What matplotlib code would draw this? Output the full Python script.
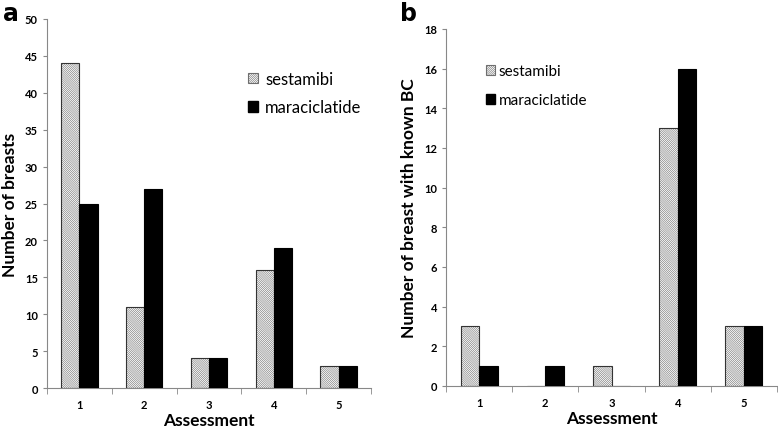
import matplotlib.pyplot as plt
import numpy as np
from matplotlib.patches import Patch

# data
assessment = [1, 2, 3, 4, 5]
sestamibi_a = [44, 11, 4, 16, 3]
maraciclatide_a = [25, 27, 4, 19, 3]
sestamibi_b = [3, 0, 1, 13, 3]
maraciclatide_b = [1, 1, 0, 16, 3]

plt.rcParams['font.family'] = ['Lato', 'DejaVu Sans']
plt.rcParams['hatch.linewidth'] = 0.4

HATCH = '\\' * 16
HCOL = '#6e6e6e'

fig = plt.figure(figsize=(7.78, 4.31), dpi=100)
ax_a = fig.add_axes([0.0604, 0.0974, 0.4165, 0.8562])
ax_b = fig.add_axes([0.5733, 0.1021, 0.4254, 0.8283])

w = 0.28
x = np.array(assessment)


def draw_panel(ax, ses, mar, ymax, ystep, ylabel):
    # hatched bars: hatch first, outline on top
    ax.bar(x - w / 2, ses, w, facecolor='white', edgecolor=HCOL,
           hatch=HATCH, linewidth=0, zorder=2)
    ax.bar(x - w / 2, ses, w, facecolor='none', edgecolor='#333333',
           linewidth=0.8, zorder=3)
    ax.bar(x + w / 2, mar, w, color='black', edgecolor='black',
           linewidth=0.8, zorder=3)
    ax.set_xlim(0.5, 5.5)
    ax.set_ylim(0, ymax)
    ax.set_yticks(np.arange(0, ymax + 0.1, ystep))
    ax.set_xticks(x)
    ax.set_xticks(np.arange(0.5, 5.6, 1), minor=True)
    ax.tick_params(axis='x', which='major', length=0, pad=8, labelsize=8)
    ax.tick_params(axis='x', which='minor', length=4, color='#888888')
    ax.tick_params(axis='y', length=3, color='#888888', labelsize=8)
    for lab in ax.get_xticklabels() + ax.get_yticklabels():
        lab.set_fontweight('bold')
    for s in ['top', 'right']:
        ax.spines[s].set_visible(False)
    for s in ['left', 'bottom']:
        ax.spines[s].set_color('#888888')
        ax.spines[s].set_linewidth(0.8)
    ax.set_xlabel('Assessment', fontsize=12.5, fontweight='bold', labelpad=1.5)
    ax.set_ylabel(ylabel, fontsize=12.5, fontweight='bold', labelpad=5)


draw_panel(ax_a, sestamibi_a, maraciclatide_a, 50, 5, 'Number of breasts')
draw_panel(ax_b, sestamibi_b, maraciclatide_b, 18, 2, 'Number of breast with known BC')

handles = [Patch(facecolor='white', edgecolor=HCOL, hatch=HATCH, linewidth=0.8),
           Patch(facecolor='black', edgecolor='black')]
labels = ['sestamibi', 'maraciclatide']
ax_a.legend(handles, labels, loc='upper left', bbox_to_anchor=(0.575, 0.9),
            frameon=False, fontsize=12, handlelength=0.6, handleheight=0.6,
            handletextpad=0.4, labelspacing=0.75)
ax_b.legend(handles, labels, loc='upper left', bbox_to_anchor=(0.08, 0.94),
            frameon=False, fontsize=11, handlelength=0.6, handleheight=0.6,
            handletextpad=0.2, labelspacing=1.0)

fig.text(0.004, 0.995, 'a', fontsize=17, fontweight='bold', family='DejaVu Sans', va='top')
fig.text(0.514, 0.995, 'b', fontsize=17, fontweight='bold', family='DejaVu Sans', va='top')

fig.savefig('out.png', dpi=100)
